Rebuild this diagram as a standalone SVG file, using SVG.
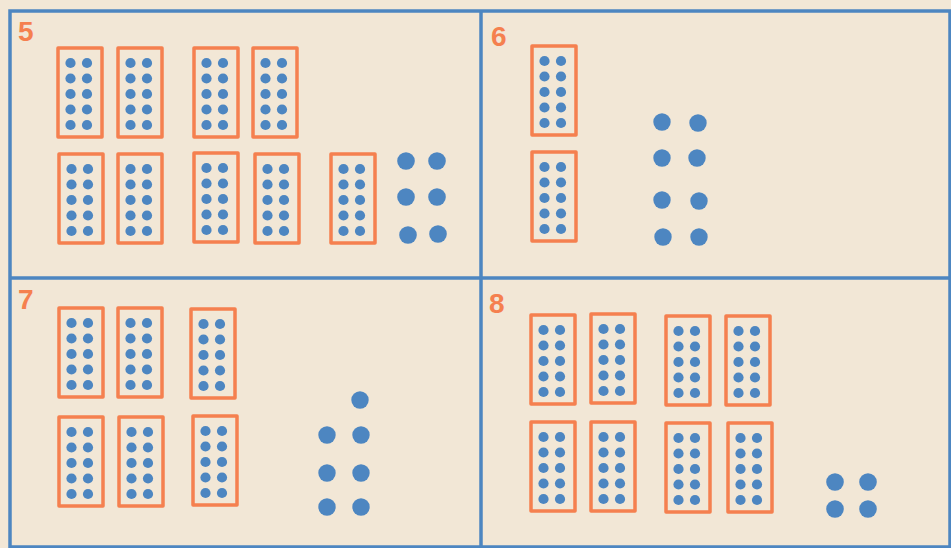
<svg xmlns="http://www.w3.org/2000/svg" xmlns:xlink="http://www.w3.org/1999/xlink" width="951" height="548" viewBox="0 0 951 548">
<style>
.frame{fill:none;stroke:#4d86c1;stroke-width:3.5}
.box{fill:none;stroke:#f5804f;stroke-width:3.5;stroke-linejoin:round}
.dot{fill:#4d86c1}
.num{font-family:"Liberation Sans",Arial,sans-serif;font-weight:bold;font-size:28px;fill:#f5804f}
</style>
<defs>
<g id="card">
<rect class="box" x="2" y="2" width="44" height="89"/>
<g class="dot">
<circle cx="14.5" cy="17" r="5.1"/><circle cx="31" cy="17" r="5.1"/>
<circle cx="14.5" cy="32.5" r="5.1"/><circle cx="31" cy="32.5" r="5.1"/>
<circle cx="14.5" cy="48" r="5.1"/><circle cx="31" cy="48" r="5.1"/>
<circle cx="14.5" cy="63.5" r="5.1"/><circle cx="31" cy="63.5" r="5.1"/>
<circle cx="14.5" cy="79" r="5.1"/><circle cx="31" cy="79" r="5.1"/>
</g>
</g>
</defs>
<rect width="951" height="548" fill="#f2e7d6"/>
<g id="frame">
<rect class="frame" x="10" y="11" width="940" height="536"/>
<line class="frame" x1="481" y1="11" x2="481" y2="547"/>
<line class="frame" x1="10" y1="278" x2="950" y2="278"/>
</g>
<g id="panel5">
<text class="num" x="18" y="41">5</text>
<use xlink:href="#card" x="56" y="46"/>
<use xlink:href="#card" x="116" y="46"/>
<use xlink:href="#card" x="192" y="46"/>
<use xlink:href="#card" x="251" y="46"/>
<use xlink:href="#card" x="57" y="152"/>
<use xlink:href="#card" x="116" y="152"/>
<use xlink:href="#card" x="192" y="151"/>
<use xlink:href="#card" x="253" y="152"/>
<use xlink:href="#card" x="329" y="152"/>
<g class="dot">
<circle cx="406" cy="161" r="8.8"/><circle cx="437" cy="161" r="8.8"/>
<circle cx="406" cy="197" r="8.8"/><circle cx="437" cy="197" r="8.8"/>
<circle cx="408" cy="235" r="8.8"/><circle cx="438" cy="234" r="8.8"/>
</g>
</g>
<g id="panel6">
<text class="num" x="491" y="46">6</text>
<use xlink:href="#card" x="530" y="44"/>
<use xlink:href="#card" x="530" y="150"/>
<g class="dot">
<circle cx="662" cy="122" r="8.7"/><circle cx="698" cy="123" r="8.7"/>
<circle cx="662" cy="158" r="8.7"/><circle cx="697" cy="158" r="8.7"/>
<circle cx="662" cy="200" r="8.7"/><circle cx="699" cy="201" r="8.7"/>
<circle cx="663" cy="237" r="8.7"/><circle cx="699" cy="237" r="8.7"/>
</g>
</g>
<g id="panel7">
<text class="num" x="18" y="309">7</text>
<use xlink:href="#card" x="57" y="306"/>
<use xlink:href="#card" x="116" y="306"/>
<use xlink:href="#card" x="189" y="307"/>
<use xlink:href="#card" x="57" y="415"/>
<use xlink:href="#card" x="117" y="415"/>
<use xlink:href="#card" x="191" y="414"/>
<g class="dot">
<circle cx="360" cy="400" r="8.7"/>
<circle cx="327" cy="435" r="8.7"/><circle cx="361" cy="435" r="8.7"/>
<circle cx="327" cy="473" r="8.7"/><circle cx="361" cy="473" r="8.7"/>
<circle cx="327" cy="507" r="8.7"/><circle cx="361" cy="507" r="8.7"/>
</g>
</g>
<g id="panel8">
<text class="num" x="489" y="313">8</text>
<use xlink:href="#card" x="529" y="313"/>
<use xlink:href="#card" x="589" y="312"/>
<use xlink:href="#card" x="664" y="314"/>
<use xlink:href="#card" x="724" y="314"/>
<use xlink:href="#card" x="529" y="420"/>
<use xlink:href="#card" x="589" y="420"/>
<use xlink:href="#card" x="664" y="421"/>
<use xlink:href="#card" x="726" y="421"/>
<g class="dot">
<circle cx="835" cy="482" r="8.8"/><circle cx="868" cy="482" r="8.8"/>
<circle cx="835" cy="509" r="8.8"/><circle cx="868" cy="509" r="8.8"/>
</g>
</g>
</svg>
